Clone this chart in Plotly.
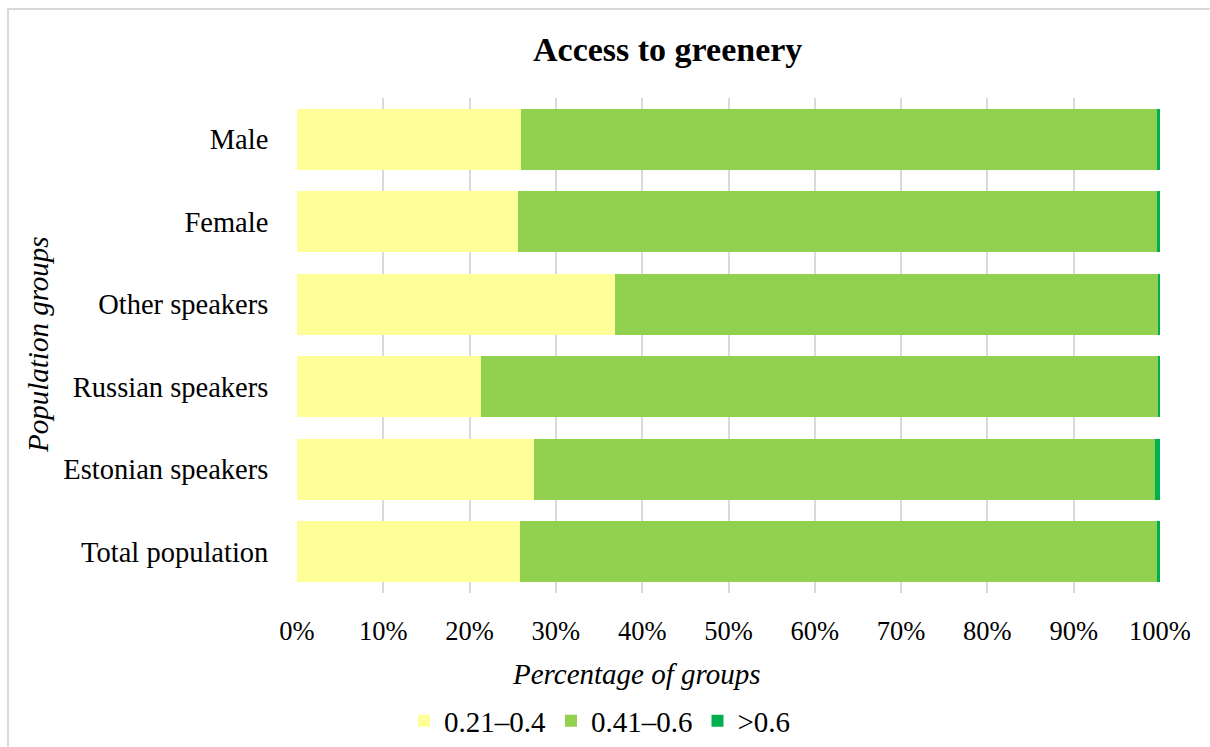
import plotly.graph_objects as go

# Population groups, listed top to bottom
groups = ["Male", "Female", "Other speakers", "Russian speakers",
          "Estonian speakers", "Total population"]

# Share of each group (%) by greenery access index band
share_low = [26.0, 25.6, 36.8, 21.3, 27.5, 25.8]        # 0.21–0.4
share_mid = [73.65, 74.05, 63.0, 78.55, 71.9, 73.85]    # 0.41–0.6
share_high = [0.35, 0.35, 0.2, 0.15, 0.6, 0.35]         # >0.6

band_names = ["0.21–0.4", "0.41–0.6", ">0.6"]
band_colors = ["#FFFF99", "#92D050", "#00B050"]

FONT = "Liberation Serif"

# plot-area geometry in pixels (used to place paper-anchored items)
W, H = 1210, 747
L, R, T, B = 297, 50, 98, 154
PW = W - L - R
PH = H - T - B


def px_x(x):
    return (x - L) / PW


def px_y(y):
    return (H - B - y) / PH


fig = go.Figure()
for name, vals, col in zip(band_names, [share_low, share_mid, share_high], band_colors):
    fig.add_trace(go.Bar(
        y=groups, x=vals, name=name, orientation="h",
        marker=dict(color=col, line=dict(width=0)),
    ))

fig.update_layout(
    width=W, height=H,
    margin=dict(l=L, r=R, t=T, b=B, autoexpand=False),
    barmode="stack", bargap=0.26,
    paper_bgcolor="white", plot_bgcolor="white",
    font=dict(family=FONT, color="black"),
    showlegend=True,
    legend=dict(orientation="h", x=px_x(600), y=px_y(721),
                xanchor="center", yanchor="middle",
                font=dict(family=FONT, size=29, color="black"),
                itemwidth=30, traceorder="normal"),
    xaxis=dict(range=[0, 100], dtick=10, ticksuffix="%",
               showgrid=True, gridcolor="#D9D9D9", gridwidth=2,
               zeroline=False, showline=False,
               ticks="outside", ticklen=14, tickcolor="rgba(0,0,0,0)",
               tickfont=dict(family=FONT, size=26.5, color="black")),
    yaxis=dict(autorange="reversed", showgrid=False, zeroline=False,
               showline=False, ticks="outside", ticklen=22,
               tickcolor="rgba(0,0,0,0)",
               tickfont=dict(family=FONT, size=28.5, color="black")),
    shapes=[dict(type="rect", xref="paper", yref="paper",
                 x0=px_x(8), x1=px_x(1240), y0=px_y(9), y1=px_y(780),
                 line=dict(color="#D9D9D9", width=2), layer="below")],
    annotations=[
        dict(text="<b>Access to greenery</b>", xref="paper", yref="paper",
             x=px_x(667.5), y=px_y(49), xanchor="center", yanchor="middle",
             showarrow=False, font=dict(family=FONT, size=34, color="black")),
        dict(text="<i>Percentage of groups</i>", xref="paper", yref="paper",
             x=px_x(636), y=px_y(674), xanchor="center", yanchor="middle",
             showarrow=False, font=dict(family=FONT, size=29, color="black")),
        dict(text="<i>Population groups</i>", xref="paper", yref="paper",
             x=px_x(38), y=px_y(345), xanchor="center", yanchor="middle",
             textangle=-90, showarrow=False,
             font=dict(family=FONT, size=29, color="black")),
    ],
)

fig.write_html("out.html")
